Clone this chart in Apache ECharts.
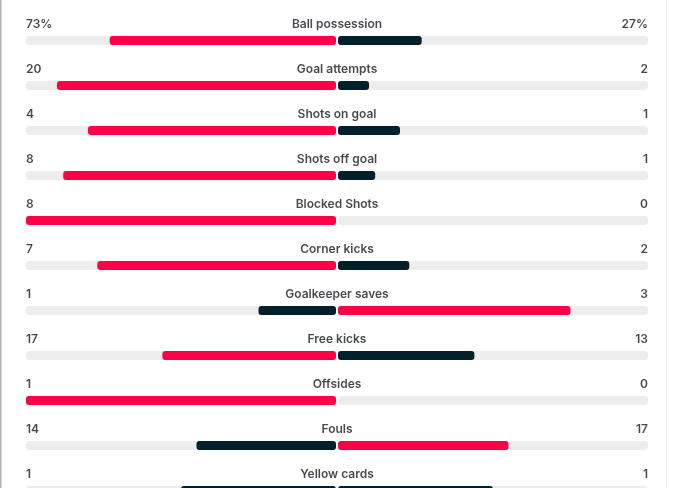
<!DOCTYPE html>
<html>
<head>
<meta charset="utf-8">
<style>
html,body{margin:0;padding:0;background:#fff;}
#c{width:676px;height:488px;}
</style>
<script src="https://cdn.jsdelivr.net/npm/echarts@6/dist/echarts.min.js"></script>
</head>
<body>
<div id="c"></div>
<script>
const categories = ['Ball possession','Goal attempts','Shots on goal','Shots off goal','Blocked Shots','Corner kicks','Goalkeeper saves','Free kicks','Offsides','Fouls','Yellow cards'];
const homeValues = [73,20,4,8,8,7,1,17,1,14,1];
const awayValues = [27,2,1,1,0,2,3,13,0,17,1];
const valueSuffix = ['%','','','','','','','','','',''];
// bar lengths (percent of each half)
const homeBarPct = [73,90,80,88,100,77,25,56,100,45,50];
const awayBarPct = [27,10,20,12,0,23,75,44,0,55,50];

const RED = '#ff0046', DARK = '#021f2b', TRACK = '#ededed', TEXT = '#161a22';

const homeData = homeBarPct.map((v,i)=>({value:v,itemStyle:{color:homeValues[i]>awayValues[i]?RED:DARK}}));
const awayData = awayBarPct.map((v,i)=>({value:v,itemStyle:{color:awayValues[i]>homeValues[i]?RED:DARK}}));
const full = categories.map(()=>100);

const chart = echarts.init(document.getElementById('c'),null,{renderer:'canvas'});
const gridTop = 18, gridH = 495;
const yAx = (g)=>({type:'category',data:categories,inverse:true,gridIndex:g,show:false});
const labelStyle = {fontFamily:'Inter',fontSize:12,fontWeight:600,color:TEXT};
function labelSeries(x, fmt, align){
  return {type:'scatter',xAxisIndex:2,yAxisIndex:2,symbolSize:0,silent:true,
    data:categories.map((c,i)=>[x,c,i]),
    label:Object.assign({show:true,position:'inside',align:align,verticalAlign:'middle',offset:[0,-16.5],
      formatter:(p)=>fmt(p.data[2])},labelStyle)};
}
chart.setOption({
  animation:false,
  grid:[
    {left:26,width:310,top:gridTop,height:gridH,outerBoundsMode:'none'},
    {left:338,width:310,top:gridTop,height:gridH,outerBoundsMode:'none'},
    {left:26,width:622,top:gridTop,height:gridH,outerBoundsMode:'none'}
  ],
  xAxis:[
    {type:'value',min:0,max:100,inverse:true,gridIndex:0,show:false},
    {type:'value',min:0,max:100,gridIndex:1,show:false},
    {type:'value',min:-1,max:1,gridIndex:2,show:false}
  ],
  yAxis:[yAx(0),yAx(1),yAx(2)],
  graphic:[
    {type:'rect',shape:{x:0,y:0,width:1.5,height:488},style:{fill:'#b4b4b4'},silent:true},
    {type:'rect',shape:{x:666,y:0,width:1,height:488},style:{fill:'#ececec'},silent:true}
  ],
  series:[
    {type:'bar',xAxisIndex:0,yAxisIndex:0,data:full,barWidth:9,itemStyle:{color:TRACK,borderRadius:3},silent:true},
    {type:'bar',xAxisIndex:0,yAxisIndex:0,data:homeData,barWidth:9,barGap:'-100%',itemStyle:{borderRadius:3},silent:true},
    {type:'bar',xAxisIndex:1,yAxisIndex:1,data:full,barWidth:9,itemStyle:{color:TRACK,borderRadius:3},silent:true},
    {type:'bar',xAxisIndex:1,yAxisIndex:1,data:awayData,barWidth:9,barGap:'-100%',itemStyle:{borderRadius:3},silent:true},
    labelSeries(-1,(i)=>homeValues[i]+valueSuffix[i],'left'),
    labelSeries(0,(i)=>categories[i],'center'),
    labelSeries(1,(i)=>awayValues[i]+valueSuffix[i],'right')
  ]
});
</script>
</body>
</html>
